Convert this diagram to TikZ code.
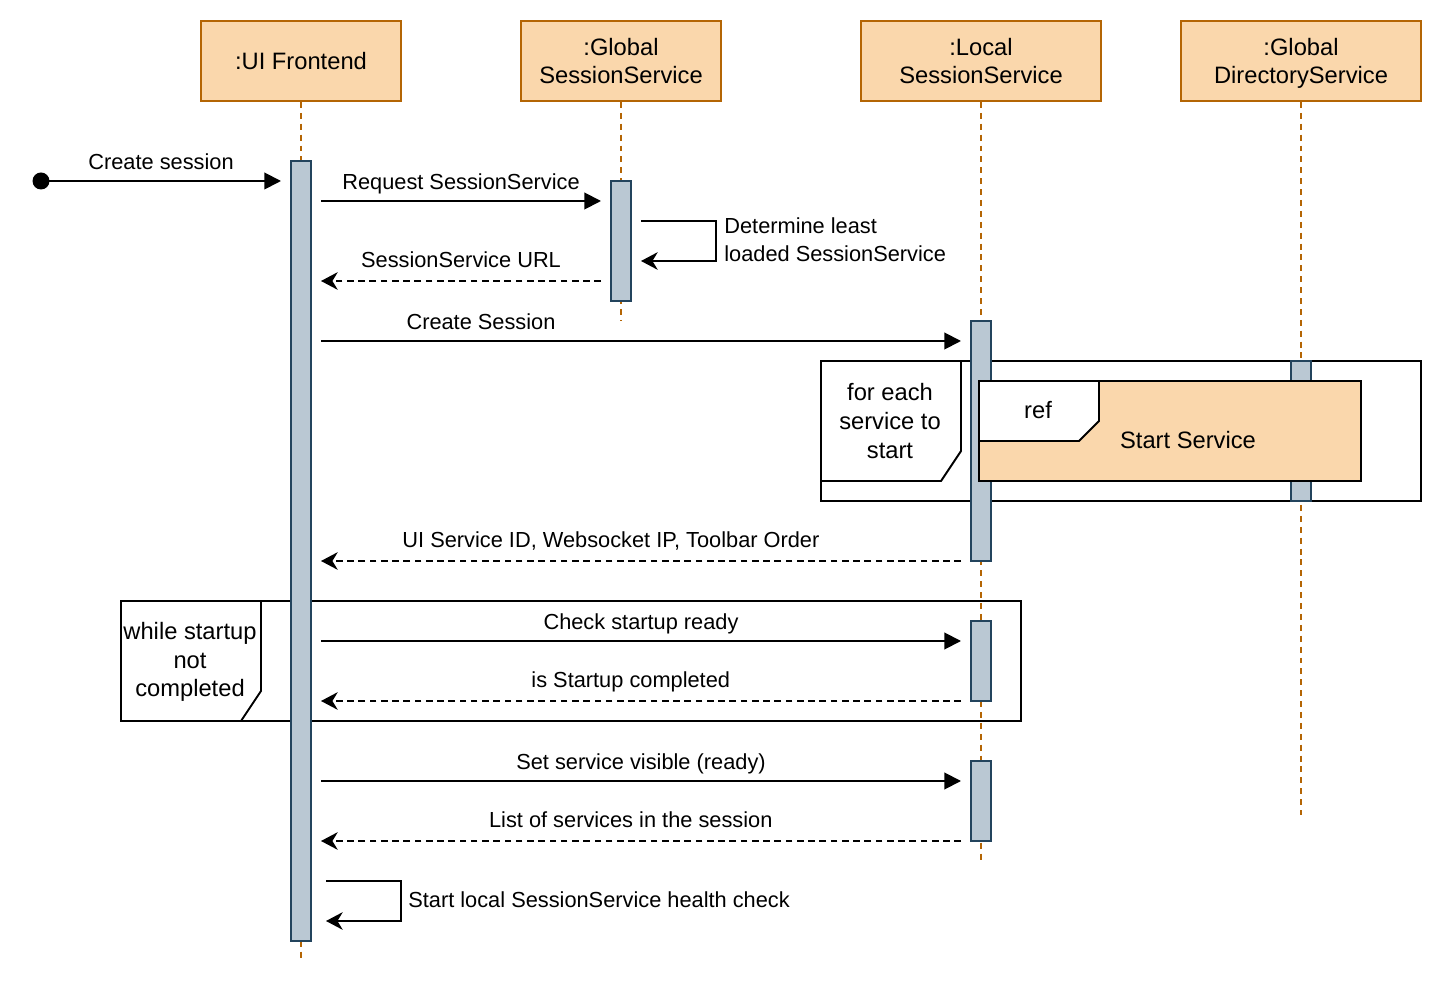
\documentclass[tikz,border=0pt]{standalone}
\usepackage{fontspec}
\setmainfont{Liberation Sans}
\usetikzlibrary{arrows.meta}
\definecolor{headfill}{HTML}{FAD7AC}
\definecolor{headline}{HTML}{B46504}
\definecolor{actfill}{HTML}{BAC8D3}
\definecolor{actline}{HTML}{23445D}
\tikzset{
  head/.style={draw=headline,fill=headfill,line width=1.1pt,align=center,inner sep=0pt,
    minimum height=1.6cm,text depth=0pt,font=\fontsize{13.5}{16.4}\selectfont},
  act/.style={draw=actline,fill=actfill,line width=1.1pt,inner sep=0pt,minimum width=0.4cm},
  life/.style={draw=headline,line width=1pt,dash pattern=on 3.4pt off 2.8pt},
  msg/.style={line width=1.1pt,-{Triangle[length=9.5pt,width=9.5pt]}},
  ret/.style={line width=1.1pt,dash pattern=on 3.8pt off 2.6pt,-{Stealth[length=9.5pt,width=10pt,inset=3pt]}},
  self/.style={line width=1.1pt,-{Stealth[length=9.5pt,width=10pt,inset=3pt]}},
  lbl/.style={font=\fontsize{12.4}{15.8}\selectfont,inner sep=0pt,text depth=0pt},
  frametxt/.style={font=\fontsize{13.5}{16.4}\selectfont,align=center,inner sep=0pt},
  frame/.style={draw,line width=1.1pt}
}
\begin{document}
\begin{tikzpicture}[x=0.02cm,y=-0.02cm]
    \useasboundingbox (0,0) rectangle (1447,982);
    % heads
    \node[head,minimum width=4cm] (ui) at (301,61) {:UI Frontend};
    \node[head,minimum width=4cm] (gs) at (621,61) {:Global\\SessionService};
    \node[head,minimum width=4.8cm] (ls) at (981,61) {:Local\\SessionService};
    \node[head,minimum width=4.8cm] (gd) at (1301,61) {:Global\\DirectoryService};
    % lifelines
    \coordinate (uiend) at (301,960);
    \coordinate (gsend) at (621,320);
    \coordinate (lsend) at (981,860);
    \coordinate (gdend) at (1301,815);
    \draw[life] (ui.south) -- (uiend);
    \draw[life] (gs.south) -- (gsend);
    \draw[life] (ls.south) -- (lsend);
    \draw[life] (gd.south) -- (gdend);
    % loop frame
    \draw[frame,fill=white] (821,361) rectangle (1421,501);
    \draw[frame,fill=white] (821,361) -- (961,361) -- (961,451) -- (941,481) -- (821,481) -- cycle;
    \node[frametxt] (loop) at (890,421) {for each\\service to\\start};
    % while frame
    \draw[frame] (121,601) rectangle (1021,721);
    \draw[frame,fill=white] (121,601) -- (261,601) -- (261,691) -- (241,721) -- (121,721) -- cycle;
    \node[frametxt] (while) at (190,662) {while startup\\not\\completed};
    % activations
    \node[act,minimum height=15.6cm] (uia) at (301,551) {};
    \node[act,minimum height=2.4cm] (gsa) at (621,241) {};
    \node[act,minimum height=4.8cm] (lsa) at (981,441) {};
    \node[act,minimum height=1.6cm] (lsb) at (981,661) {};
    \node[act,minimum height=1.6cm] (lsc) at (981,801) {};
    \node[act,minimum height=2.8cm] (gda) at (1301,431) {};
    % ref frame
    \draw[frame,fill=headfill] (979,381) rectangle (1361,481);
    \draw[frame,fill=white] (979,381) -- (1099,381) -- (1099,421) -- (1079,441) -- (979,441) -- cycle;
    \node[frametxt] (ref) at (1038,410) {ref};
    \node[frametxt] (start) at (1188,440) {Start Service};
    % messages
    \coordinate (s0) at (41,181);
    \coordinate (e0) at (281,181);
    \fill (s0) circle (8.5);
    \draw[msg] (s0) -- (e0) node[lbl,midway,above=6pt] {Create session};
    \coordinate (s1) at (321,201);
    \coordinate (e1) at (601,201);
    \draw[msg] (s1) -- (e1) node[lbl,midway,above=6pt] {Request SessionService};
    \coordinate (s2) at (641,221);
    \coordinate (e2) at (641,261);
    \draw[self] (s2) -| (716,241) |- (e2);
    \node[lbl,align=left,anchor=west,text depth=] (det) at (724,240) {Determine least\\loaded SessionService};
    \coordinate (s3) at (601,281);
    \coordinate (e3) at (321,281);
    \draw[ret] (s3) -- (e3) node[lbl,midway,above=7.2pt] {SessionService URL};
    \coordinate (s4) at (321,341);
    \coordinate (e4) at (961,341);
    \draw[msg] (s4) -- (e4) node[lbl,pos=0.25,above=6pt] {Create Session};
    \coordinate (s5) at (961,561);
    \coordinate (e5) at (321,561);
    \draw[ret] (s5) -- (e5) node[lbl,pos=0.547,above=7.2pt] {UI Service ID, Websocket IP, Toolbar Order};
    \coordinate (s6) at (321,641);
    \coordinate (e6) at (961,641);
    \draw[msg] (s6) -- (e6) node[lbl,midway,above=6pt] {Check startup ready};
    \coordinate (s7) at (961,701);
    \coordinate (e7) at (321,701);
    \draw[ret] (s7) -- (e7) node[lbl,pos=0.516,above=7.2pt] {is Startup completed};
    \coordinate (s8) at (321,781);
    \coordinate (e8) at (961,781);
    \draw[msg] (s8) -- (e8) node[lbl,midway,above=6pt] {Set service visible (ready)};
    \coordinate (s9) at (961,841);
    \coordinate (e9) at (321,841);
    \draw[ret] (s9) -- (e9) node[lbl,pos=0.516,above=7.2pt] {List of services in the session};
    \coordinate (s10) at (326,881);
    \coordinate (e10) at (326,921);
    \draw[self] (s10) -| (401,901) |- (e10);
    \node[lbl,anchor=west,text depth=] (health) at (408,900) {Start local SessionService health check};
\end{tikzpicture}
\end{document}
